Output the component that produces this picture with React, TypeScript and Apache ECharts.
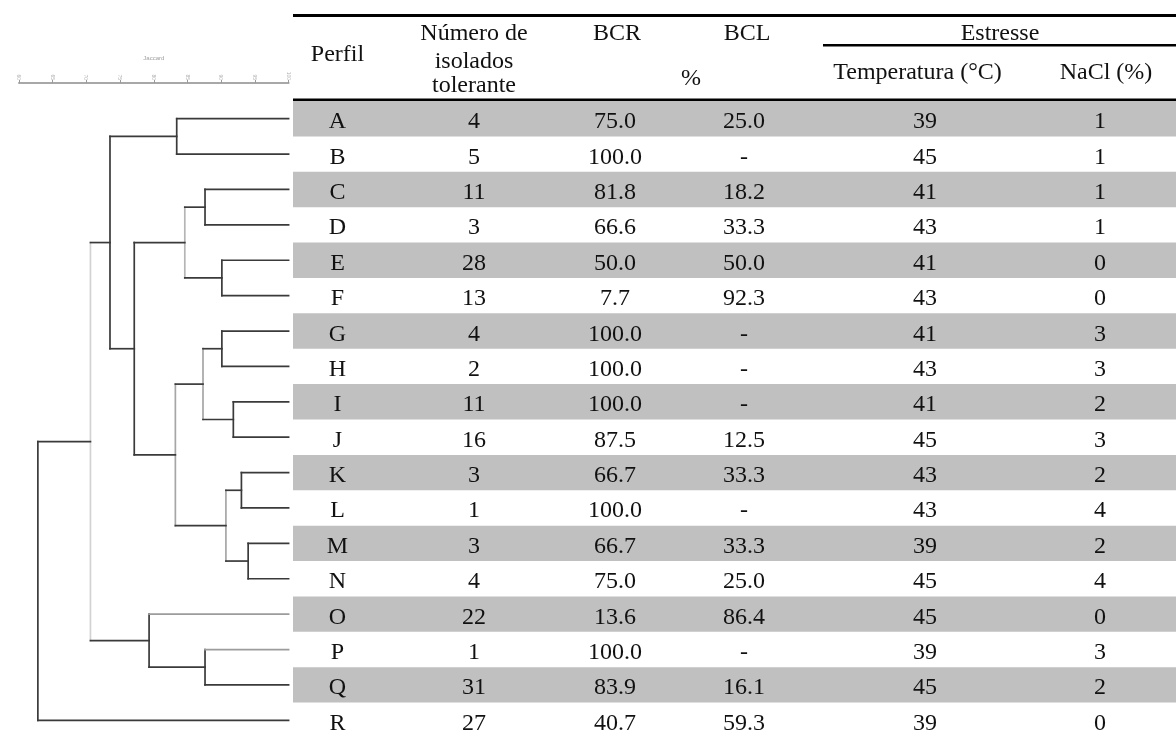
import { useEffect, useRef } from "react";
import * as echarts from "echarts";

// Phenotypic profiles (rows of the table, leaves of the dendrogram)
const profiles = ["A", "B", "C", "D", "E", "F", "G", "H", "I", "J", "K", "L", "M", "N", "O", "P", "Q", "R"];
const isolates = [4, 5, 11, 3, 28, 13, 4, 2, 11, 16, 3, 1, 3, 4, 22, 1, 31, 27];
const bcr = [75.0, 100.0, 81.8, 66.6, 50.0, 7.7, 100.0, 100.0, 100.0, 87.5, 66.7, 100.0, 66.7, 75.0, 13.6, 100.0, 83.9, 40.7];
const bcl: (number | null)[] = [25.0, null, 18.2, 33.3, 50.0, 92.3, null, null, null, 12.5, 33.3, null, 33.3, 25.0, 86.4, null, 16.1, 59.3];
const temperature = [39, 45, 41, 43, 41, 43, 41, 43, 41, 45, 43, 43, 39, 45, 45, 39, 45, 39];
const nacl = [1, 1, 1, 1, 0, 0, 3, 3, 2, 3, 2, 4, 2, 4, 0, 3, 2, 0];

// Cluster joins: [first child, second child, similarity (%), join id]
const joins: [string, string, number, string][] = [
  ["A", "B", 83.4, "AB"],
  ["C", "D", 87.6, "CD"],
  ["E", "F", 90.1, "EF"],
  ["CD", "EF", 84.6, "CF"],
  ["G", "H", 90.1, "GH"],
  ["I", "J", 91.8, "IJ"],
  ["GH", "IJ", 87.3, "GJ"],
  ["K", "L", 93.0, "KL"],
  ["M", "N", 94.0, "MN"],
  ["KL", "MN", 90.7, "KN"],
  ["GJ", "KN", 83.2, "GN"],
  ["CF", "GN", 77.1, "CN"],
  ["AB", "CN", 73.5, "AN"],
  ["P", "Q", 87.6, "PQ"],
  ["O", "PQ", 79.3, "OQ"],
  ["AN", "OQ", 70.6, "AQ"],
  ["AQ", "R", 62.8, "AR"],
];

// Similarity scale
const scaleMin = 60;
const scaleMax = 100;
const scaleStep = 5;

// Header labels
const headPerfil = "Perfil";
const headIsolates = ["Número de", "isolados", "tolerante"];
const headBcr = "BCR";
const headBcl = "BCL";
const headPct = "%";
const headStress = "Estresse";
const headTemp = "Temperatura (°C)";
const headNacl = "NaCl (%)";

// Layout
const SERIF = "'Liberation Serif', 'Times New Roman', serif";
const FONT = `24px ${SERIF}`;
const TABLE_LEFT = 293;
const ROWS_TOP = 101;
const ROW_H = 35.6;
const colCenters = [337.5, 474, 615, 744, 925, 1100];
const DARK = "#3a3a3a";
const joinTone: Record<string, string> = { AQ: "#d2d2d2", CF: "#b5b5b5", GN: "#a6a6a6", GJ: "#a6a6a6", KN: "#a6a6a6" };
const leafTone: Record<string, string> = { O: "#9c9c9c", P: "#9c9c9c" };

const fmt = (v: number | null) => (v == null ? "-" : v.toFixed(1));

export default function App() {
  const ref = useRef<HTMLDivElement>(null);

  useEffect(() => {
    if (!ref.current) return;
    const chart = echarts.init(ref.current, null, { renderer: "svg" });

    const joinById: Record<string, [string, string, number, string]> = {};
    joins.forEach((j) => (joinById[j[3]] = j));

    const renderJoin = (params: any, api: any) => {
      const [a, b, h, id] = joins[params.dataIndex];
      const pos = (name: string): [number, number] => {
        const leaf = profiles.indexOf(name);
        if (leaf >= 0) {
          const p = api.coord([scaleMax, leaf]);
          return [p[0], p[1]];
        }
        const j = joinById[name];
        const x = api.coord([j[2], 0])[0];
        return [x, (pos(j[0])[1] + pos(j[1])[1]) / 2];
      };
      const x = api.coord([h, 0])[0];
      const pa = pos(a);
      const pb = pos(b);
      const lw = 1.7;
      const line = (x1: number, y1: number, x2: number, y2: number, stroke: string) => ({
        type: "line",
        shape: { x1, y1, x2, y2 },
        style: { stroke, lineWidth: lw, lineCap: "square" },
      });
      return {
        type: "group",
        children: [
          line(x, pa[1], x, pb[1], joinTone[id] || DARK),
          line(x, pa[1], pa[0], pa[1], leafTone[a] || DARK),
          line(x, pb[1], pb[0], pb[1], leafTone[b] || DARK),
        ],
      };
    };

    const renderRow = (params: any, api: any) => {
      const i = api.value(0);
      const cs = params.coordSys;
      const yc = api.coord([0, i])[1];
      const h = api.size([0, 1])[1];
      const cells = [profiles[i], String(isolates[i]), fmt(bcr[i]), fmt(bcl[i]), String(temperature[i]), String(nacl[i])];
      const children: any[] = [];
      if (i % 2 === 0) {
        children.push({
          type: "rect",
          shape: { x: cs.x, y: yc - h / 2, width: cs.width, height: h },
          style: { fill: "#c0c0c0" },
        });
      }
      cells.forEach((t, c) => {
        children.push({
          type: "text",
          x: colCenters[c],
          y: yc + 1.5,
          style: { text: t, font: FONT, fill: "#111", align: "center", verticalAlign: "middle" },
        });
      });
      return { type: "group", children };
    };

    const headText = (text: string, x: number, y: number) => ({
      type: "text",
      x,
      y,
      style: { text, font: FONT, fill: "#111", align: "center", verticalAlign: "middle", textAlign: "center", textVerticalAlign: "middle" },
    });

    chart.setOption({
      animation: false,
      grid: [
        { left: 19, width: 269.6, top: ROWS_TOP, height: ROW_H * profiles.length },
        { left: TABLE_LEFT, right: 0, top: ROWS_TOP, height: ROW_H * profiles.length },
      ],
      xAxis: [
        {
          type: "value",
          gridIndex: 0,
          min: scaleMin,
          max: scaleMax,
          interval: scaleStep,
          position: "top",
          offset: 18,
          splitLine: { show: false },
          axisLine: { show: true, lineStyle: { color: "#a8a8a8", width: 2 } },
          axisTick: { show: true, length: 3, inside: false, lineStyle: { color: "#9a9a9a" } },
          axisLabel: { show: true, fontSize: 5, color: "#b0b0b0", rotate: 90, margin: 3, showMinLabel: true, showMaxLabel: true },
          name: "Jaccard",
          nameLocation: "middle",
          nameGap: 22,
          nameTextStyle: { fontSize: 6, color: "#a0a0a0" },
        },
        { type: "value", gridIndex: 1, min: 0, max: 1, show: false },
      ],
      yAxis: [
        { type: "category", gridIndex: 0, data: profiles, inverse: true, show: false },
        { type: "category", gridIndex: 1, data: profiles, inverse: true, show: false },
      ],
      series: [
        {
          type: "custom",
          xAxisIndex: 1,
          yAxisIndex: 1,
          data: profiles.map((_, i) => [i]),
          renderItem: renderRow,
          encode: { y: 0 },
          silent: true,
        },
        {
          type: "custom",
          xAxisIndex: 0,
          yAxisIndex: 0,
          data: joins.map((j) => [j[2], 0]),
          renderItem: renderJoin,
          encode: { x: 0, y: 1 },
          silent: true,
        },
      ],
      graphic: [
        { type: "rect", shape: { x: TABLE_LEFT, y: 14, width: 1176 - TABLE_LEFT, height: 3 }, style: { fill: "#000" } },
        { type: "rect", shape: { x: 823, y: 44, width: 1176 - 823, height: 2.5 }, style: { fill: "#000" } },
        { type: "rect", shape: { x: TABLE_LEFT, y: 98.5, width: 1176 - TABLE_LEFT, height: 3 }, style: { fill: "#000" } },
        headText(headPerfil, 337.5, 52.5),
        headText(headIsolates[0], 474, 32),
        headText(headIsolates[1], 474, 60),
        headText(headIsolates[2], 474, 84),
        headText(headBcr, 617, 32),
        headText(headBcl, 747, 32),
        headText(headPct, 691, 76.5),
        headText(headStress, 1000, 32),
        headText(headTemp, 917.5, 71),
        headText(headNacl, 1106, 71),
      ],
    });

    return () => chart.dispose();
  }, []);

  return <div ref={ref} style={{ position: "fixed", left: 0, top: 0, width: 1176, height: 738 }} />;
}
